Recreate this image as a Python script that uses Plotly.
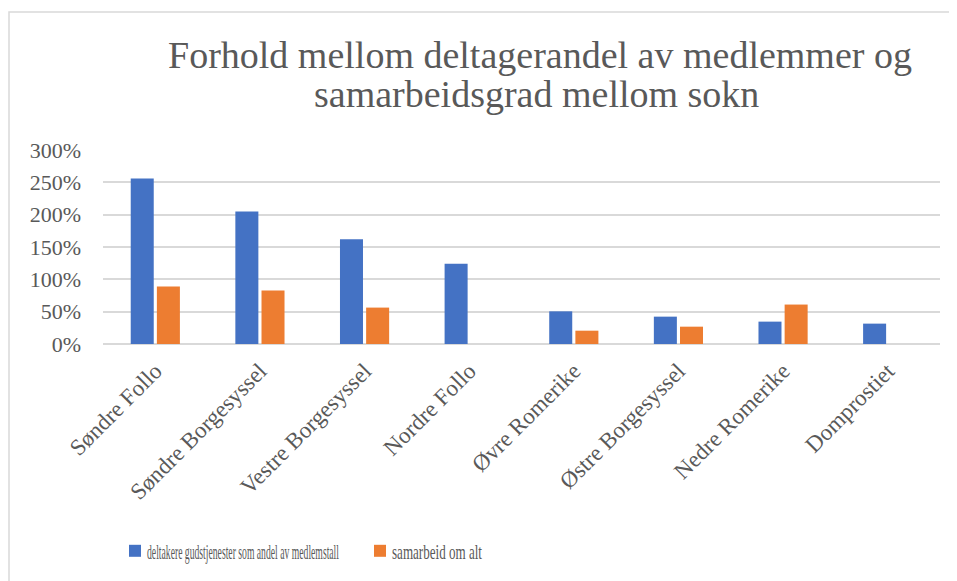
import plotly.graph_objects as go

categories = ["Søndre Follo", "Søndre Borgesyssel", "Vestre Borgesyssel", "Nordre Follo",
              "Øvre Romerike", "Østre Borgesyssel", "Nedre Romerike", "Domprostiet"]
deltakere = [2.56, 2.05, 1.62, 1.24, 0.505, 0.423, 0.346, 0.315]
samarbeid = [0.89, 0.826, 0.563, None, 0.206, 0.268, 0.61, None]
series_names = ["deltakere gudstjenester som andel av medlemstall", "samarbeid om alt"]
title_lines = ["Forhold mellom deltagerandel av medlemmer og", "samarbeidsgrad mellom sokn"]
y_ticks = [0, 0.5, 1.0, 1.5, 2.0, 2.5, 3.0]

FONT = "Liberation Serif, Times New Roman, serif"
GREY = "#595959"

fig = go.Figure()
fig.add_trace(go.Bar(x=categories, y=deltakere, name=series_names[0],
                     marker=dict(color="#4472C4", line=dict(width=0))))
fig.add_trace(go.Bar(x=categories, y=samarbeid, name=series_names[1],
                     marker=dict(color="#ED7D31", line=dict(width=0))))

# page body has an 8px margin, so the figure is 8px smaller than the window
OFF = 8
W, H = 957 - OFF, 581 - OFF
L, R, T, B = 103 - OFF, 17, 150 - OFF, 581 - 344
pw, ph = W - L - R, H - T - B

def px(xp):
    return (xp - OFF - L) / pw

def py(yp):
    return (H - B - (yp - OFF)) / ph

annotations = [
    dict(text=title_lines[0], x=px(540), y=py(55), xref="paper", yref="paper",
         xanchor="center", yanchor="middle", showarrow=False,
         font=dict(family=FONT, size=38, color=GREY)),
    dict(text=title_lines[1], x=px(536), y=py(94), xref="paper", yref="paper",
         xanchor="center", yanchor="middle", showarrow=False,
         font=dict(family=FONT, size=38, color=GREY)),
]

fig.update_layout(
    width=W, height=H,
    margin=dict(l=L, r=R, t=T, b=B, autoexpand=False),
    paper_bgcolor="white", plot_bgcolor="white",
    font=dict(family=FONT, color=GREY, size=22),
    barmode="group", bargap=0.5, bargroupgap=0.12,
    annotations=annotations,
    legend=dict(orientation="h", x=px(115), xanchor="left", y=py(551), yanchor="middle",
                font=dict(family=FONT, size=22, color=GREY), traceorder="normal",
                entrywidth=200, entrywidthmode="pixels"),
    showlegend=True,
    xaxis=dict(tickangle=-45, showgrid=False, showline=False, ticks="",
               tickfont=dict(family=FONT, size=23, color=GREY), ticklabelstandoff=8),
    yaxis=dict(range=[0, 3.0], tickvals=y_ticks, tickformat=".0%",
               showgrid=True, gridcolor="#d9d9d9", gridwidth=1.5,
               zeroline=True, zerolinecolor="#d9d9d9", zerolinewidth=1.5,
               showline=False, ticks="", ticklabelstandoff=21,
               tickfont=dict(family=FONT, size=22, color=GREY)),
    shapes=[dict(type="rect", xref="paper", yref="paper",
                 x0=px(9), x1=px(990), y0=py(620), y1=py(12),
                 line=dict(color="#d9d9d9", width=1.5), fillcolor="rgba(0,0,0,0)",
                 layer="below")],
)

squeeze = """
var gd = document.getElementsByClassName('plotly-graph-div')[0];
var widths = [192, 90];
var els = gd.querySelectorAll('.legendtext');
for (var i = 0; i < els.length && i < widths.length; i++) {
  var x0 = parseFloat(els[i].getAttribute('x')) || 40;
  els[i].setAttribute('x', x0 - 8);
  els[i].setAttribute('textLength', widths[i]);
  els[i].setAttribute('lengthAdjust', 'spacingAndGlyphs');
}
"""

fig.write_html("out.html", post_script=squeeze)
